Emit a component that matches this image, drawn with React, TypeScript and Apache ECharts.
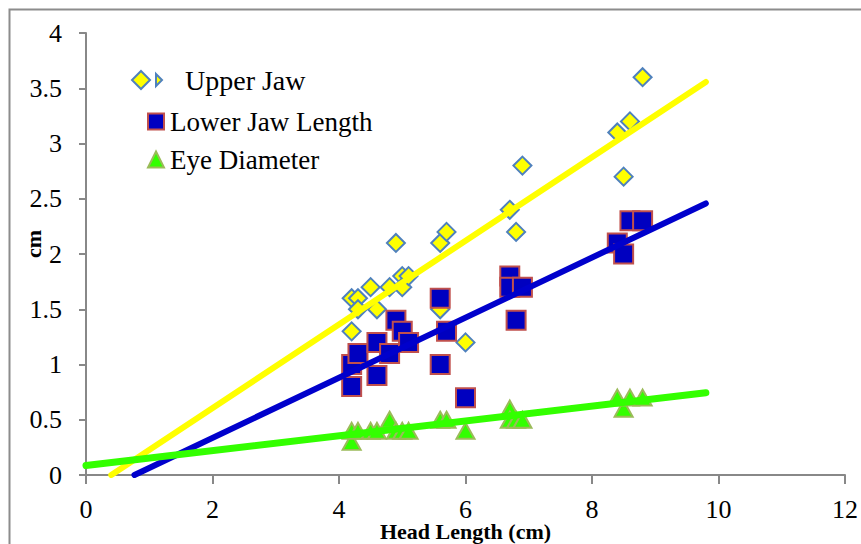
import React, { useEffect, useRef } from "react";
import * as echarts from "echarts";

// Upper Jaw (cm) vs Head Length (cm)
const upperJawX = [4.2, 4.2, 4.3, 4.3, 4.5, 4.6, 4.8, 4.9, 5.0, 5.0, 5.1, 5.6, 5.6, 5.7, 6.0, 6.7, 6.8, 6.9, 8.4, 8.5, 8.6, 8.8];
const upperJawY = [1.6, 1.3, 1.6, 1.5, 1.7, 1.5, 1.7, 2.1, 1.8, 1.7, 1.8, 2.1, 1.5, 2.2, 1.2, 2.4, 2.2, 2.8, 3.1, 2.7, 3.2, 3.6];

// Lower Jaw Length (cm)
const lowerJawX = [4.2, 4.2, 4.3, 4.6, 4.6, 4.8, 4.9, 5.0, 5.1, 5.6, 5.6, 5.7, 6.0, 6.7, 6.7, 6.8, 6.9, 8.4, 8.5, 8.6, 8.8];
const lowerJawY = [1.0, 0.8, 1.1, 1.2, 0.9, 1.1, 1.4, 1.3, 1.2, 1.6, 1.0, 1.3, 0.7, 1.8, 1.7, 1.4, 1.7, 2.1, 2.0, 2.3, 2.3];

// Eye Diameter (cm)
const eyeX = [4.2, 4.2, 4.3, 4.5, 4.6, 4.8, 4.9, 5.0, 5.1, 5.6, 5.7, 6.0, 6.7, 6.7, 6.8, 6.9, 8.4, 8.5, 8.6, 8.8];
const eyeY = [0.4, 0.3, 0.4, 0.4, 0.4, 0.5, 0.4, 0.4, 0.4, 0.5, 0.5, 0.4, 0.6, 0.5, 0.5, 0.5, 0.7, 0.6, 0.7, 0.7];

const seriesNames = ["Upper Jaw", "Lower Jaw Length", "Eye Diameter"];
const xAxisName = "Head Length (cm)";
const yAxisName = "cm";
const xMin = 0, xMax = 12, xInterval = 2;
const yMin = 0, yMax = 4, yInterval = 0.5;
// linear trendline extent (Excel-style forecast)
const trendFrom = 0;
const trendTo = 9.8;

const FONT = "Liberation Serif";

function fit(xs: number[], ys: number[]) {
  const n = xs.length;
  const mx = xs.reduce((a, b) => a + b, 0) / n;
  const my = ys.reduce((a, b) => a + b, 0) / n;
  let sxy = 0, sxx = 0;
  for (let i = 0; i < n; i++) {
    sxy += (xs[i] - mx) * (ys[i] - my);
    sxx += (xs[i] - mx) * (xs[i] - mx);
  }
  const slope = sxy / sxx;
  return { slope, intercept: my - slope * mx };
}

function trend(xs: number[], ys: number[]) {
  const { slope, intercept } = fit(xs, ys);
  let start = trendFrom;
  if (slope * start + intercept < yMin) start = (yMin - intercept) / slope;
  return [
    [start, slope * start + intercept],
    [trendTo, slope * trendTo + intercept],
  ];
}

const zip = (xs: number[], ys: number[]) => xs.map((x, i) => [x, ys[i]]);

export default function App() {
  const ref = useRef<HTMLDivElement>(null);
  useEffect(() => {
    if (!ref.current) return;
    const chart = echarts.init(ref.current, null, { renderer: "svg" });
    const axisLineColor = "#888888";
    chart.setOption({
      animation: false,
      backgroundColor: "#ffffff",
      grid: { left: 86, right: 16, top: 33, bottom: 69, containLabel: false, outerBoundsMode: "none" },
      xAxis: {
        type: "value",
        min: xMin,
        max: xMax,
        interval: xInterval,
        name: xAxisName,
        nameLocation: "middle",
        nameGap: 47,
        nameMoveOverlap: false,
        nameTextStyle: { fontFamily: FONT, fontWeight: "bold", fontSize: 22, lineHeight: 18, color: "#000" },
        axisLine: { show: true, onZero: false, lineStyle: { color: axisLineColor, width: 2 } },
        axisTick: { show: true, inside: false, length: 9, lineStyle: { color: axisLineColor, width: 2 } },
        axisLabel: { fontFamily: FONT, fontSize: 26, lineHeight: 22, color: "#000", margin: 23 },
        splitLine: { show: false },
      },
      yAxis: {
        type: "value",
        min: yMin,
        max: yMax,
        interval: yInterval,
        axisLine: { show: true, onZero: false, lineStyle: { color: axisLineColor, width: 2 } },
        axisTick: { show: true, inside: false, length: 7, lineStyle: { color: axisLineColor, width: 2 } },
        axisLabel: { fontFamily: FONT, fontSize: 26, color: "#000", margin: 24 },
        splitLine: { show: false },
      },
      legend: [
        {
          data: [seriesNames[0]],
          left: 131,
          top: 66,
          padding: 0,
          itemWidth: 32,
          itemHeight: 18,
          icon: "path://M9,0 L18,9 L9,18 L0,9 Z M24,3 L30,9 L24,15 Z",
          textStyle: { fontFamily: FONT, fontSize: 28, color: "#000", padding: [0, 0, 0, 17] },
        },
        {
          data: [seriesNames[1]],
          left: 147,
          top: 108,
          padding: 0,
          itemWidth: 16,
          itemHeight: 16,
          icon: "rect",
          textStyle: { fontFamily: FONT, fontSize: 27, color: "#000", padding: [0, 0, 0, 1] },
        },
        {
          data: [seriesNames[2]],
          left: 147,
          top: 146,
          padding: 0,
          itemWidth: 16,
          itemHeight: 16,
          icon: "triangle",
          textStyle: { fontFamily: FONT, fontSize: 27, color: "#000", padding: [0, 0, 0, 1] },
        },
      ],
      graphic: [
        {
          type: "rect",
          shape: { x: 9.5, y: 9.5, width: 900, height: 600 },
          style: { fill: "none", stroke: "#8c8c8c", lineWidth: 2 },
          silent: true,
          z: 100,
        },
        {
          type: "text",
          x: 33,
          y: 244,
          rotation: Math.PI / 2,
          style: {
            text: yAxisName,
            fontFamily: FONT,
            fontWeight: "bold",
            fontSize: 22,
            fill: "#000",
            align: "center",
            verticalAlign: "middle",
          },
          silent: true,
        },
      ],
      series: [
        {
          name: seriesNames[0],
          type: "scatter",
          symbol: "diamond",
          symbolSize: 18,
          data: zip(upperJawX, upperJawY),
          itemStyle: { color: "#FFFF00", borderColor: "#4F81BD", borderWidth: 2, opacity: 1 },
          z: 2,
        },
        {
          name: seriesNames[1],
          type: "scatter",
          symbol: "rect",
          symbolSize: 19,
          data: zip(lowerJawX, lowerJawY),
          itemStyle: { color: "#0000C0", borderColor: "#C0504D", borderWidth: 2, opacity: 1 },
          z: 2,
        },
        {
          name: seriesNames[2],
          type: "scatter",
          symbol: "triangle",
          symbolSize: [18, 16],
          data: zip(eyeX, eyeY),
          itemStyle: { color: "#33FF00", borderColor: "#9BBB59", borderWidth: 2, opacity: 1 },
          z: 2,
        },
        {
          name: "Upper Jaw trend",
          type: "line",
          data: trend(upperJawX, upperJawY),
          showSymbol: false,
          symbol: "none",
          clip: true,
          lineStyle: { color: "#FFFF00", width: 6, cap: "round" },
          z: 3,
        },
        {
          name: "Lower Jaw trend",
          type: "line",
          data: trend(lowerJawX, lowerJawY),
          showSymbol: false,
          symbol: "none",
          clip: true,
          lineStyle: { color: "#0000CC", width: 6, cap: "round" },
          z: 3,
        },
        {
          name: "Eye Diameter trend",
          type: "line",
          data: trend(eyeX, eyeY),
          showSymbol: false,
          symbol: "none",
          clip: true,
          lineStyle: { color: "#33FF00", width: 7, cap: "round" },
          z: 3,
        },
      ],
    });
    return () => chart.dispose();
  }, []);
  return (
    <div
      ref={ref}
      style={{ position: "fixed", left: 0, top: 0, width: 861, height: 544, background: "#fff" }}
    />
  );
}
